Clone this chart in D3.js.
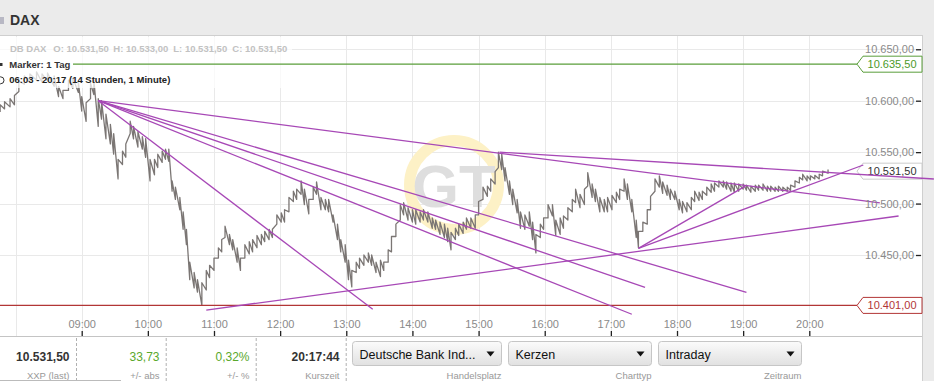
<!DOCTYPE html>
<html lang="de">
<head>
<meta charset="UTF-8">
<title>DAX Intraday</title>
<script src="https://cdn.jsdelivr.net/npm/d3@7"></script>
<style>
  body { margin: 0; background: #ebebeb; font-family: 'Liberation Sans', Arial, sans-serif; }
  svg { display: block; }
  .tick text { font-family: 'Liberation Sans', Arial, sans-serif; }
</style>
</head>
<body>
<svg id="chart" width="934" height="381"></svg>
<script>
// price bars (one range per sample)
const barTime = ["07:46","07:50","07:55","07:59","08:03","08:08","08:13","08:19","08:24","08:29","08:35","08:39","08:43","08:48","08:52","08:57","09:00","09:04","09:08","09:11","09:15","09:18","09:22","09:26","09:29","09:33","09:37","09:40","09:44","09:47","09:51","09:55","09:58","10:02","10:06","10:09","10:13","10:16","10:19","10:22","10:25","10:29","10:32","10:35","10:38","10:42","10:45","10:49","10:53","10:56","11:00","11:04","11:07","11:10","11:14","11:17","11:21","11:24","11:28","11:32","11:35","11:39","11:43","11:46","11:50","11:53","11:57","12:01","12:04","12:08","12:12","12:15","12:19","12:22","12:26","12:30","12:33","12:37","12:41","12:44","12:48","12:52","12:55","12:59","13:02","13:05","13:09","13:12","13:16","13:20","13:23","13:27","13:31","13:34","13:38","13:41","13:45","13:49","13:52","13:56","14:00","14:03","14:07","14:10","14:14","14:18","14:21","14:25","14:29","14:32","14:35","14:39","14:42","14:46","14:49","14:53","14:57","15:00","15:04","15:08","15:11","15:15","15:18","15:21","15:24","15:28","15:31","15:35","15:38","15:42","15:46","15:49","15:52","15:56","15:59","16:03","16:07","16:10","16:14","16:17","16:21","16:25","16:28","16:32","16:36","16:39","16:43","16:46","16:50","16:54","16:57","17:01","17:05","17:08","17:12","17:15","17:19","17:23","17:25","17:29","17:33","17:36","17:40","17:44","17:47","17:51","17:54","17:58","18:02","18:05","18:09","18:13","18:16","18:20","18:23","18:27","18:31","18:34","18:38","18:42","18:45","18:49","18:52","18:56","19:00","19:03","19:07","19:11","19:14","19:18","19:22","19:25","19:29","19:32","19:36","19:40","19:43","19:47","19:51","19:54","19:58","20:01","20:05","20:09","20:12","20:17"];
const barHigh = [10596,10599,10602,10605,10619,10624,10626,10628,10626,10627,10624,10614,10610,10620,10622,10618,10604,10598,10617,10620,10602,10600,10587,10577,10568,10543,10551,10558,10580,10575,10570,10565,10563,10543,10543,10548,10551,10553,10553,10522,10516,10506,10492,10475,10443,10433,10426,10423,10435,10440,10447,10457,10465,10478,10470,10465,10457,10447,10460,10463,10465,10469,10470,10473,10475,10475,10489,10491,10494,10506,10512,10514,10522,10514,10504,10516,10521,10506,10504,10504,10489,10480,10465,10460,10445,10435,10443,10447,10450,10452,10450,10443,10445,10443,10455,10468,10480,10499,10501,10496,10494,10494,10492,10494,10492,10486,10484,10482,10480,10476,10472,10476,10480,10482,10486,10486,10489,10502,10516,10517,10524,10531,10550,10548,10535,10522,10514,10504,10492,10489,10492,10482,10470,10480,10486,10499,10499,10484,10486,10488,10496,10504,10514,10509,10514,10530,10519,10514,10506,10504,10506,10508,10511,10514,10524,10519,10504,10484,10473,10482,10494,10507,10524,10527,10521,10518,10514,10512,10504,10502,10501,10506,10512,10511,10512,10516,10519,10520,10522,10522,10521,10520,10520,10519,10519,10518,10517,10518,10518,10519,10517,10517,10516,10517,10516,10516,10518,10522,10525.5,10528.5,10527,10527,10527.5,10528.5,10531.5,10533];
const barLow = [10589,10592,10594,10596,10609,10616,10618,10620,10618,10619,10614,10604,10602,10610,10612,10608,10590,10580,10602,10606,10575,10582,10563,10558,10548,10524,10538,10545,10568,10563,10555,10553,10545,10522,10528,10535,10540,10543,10541,10512,10504,10494,10475,10460,10426,10418,10414,10401,10416,10428,10435,10447,10453,10467,10460,10455,10443,10435,10447,10451,10453,10457,10460,10463,10465,10467,10480,10482,10482,10492,10502,10504,10509,10499,10490,10504,10509,10494,10494,10492,10482,10465,10453,10443,10426,10419,10433,10437,10440,10443,10440,10433,10429,10435,10443,10453,10468,10484,10489,10484,10482,10480,10482,10484,10482,10476,10475,10470,10467,10463,10455,10465,10469,10471,10475,10476,10476,10489,10504,10507,10512,10519,10535,10533,10522,10509,10499,10491,10476,10475,10478,10465,10452,10467,10475,10486,10488,10469,10470,10476,10484,10492,10501,10496,10499,10517,10506,10502,10492,10492,10492,10494,10501,10504,10512,10504,10492,10467,10457,10473,10480,10494,10512,10516,10510,10508,10504,10504,10494,10491,10492,10494,10502,10503,10504,10508,10511,10512,10516,10516,10514,10512,10511,10512,10514,10513,10511,10512,10513,10513,10512,10512,10512,10512,10512,10512,10513,10516,10520,10523,10522,10523,10524,10524,10527,10529.5];

// drawn trend lines (start / end)
const trendStartTime  = ["09:15","09:15","09:15","09:15","09:15","15:19","10:53","17:25","17:25"];
const trendStartPrice = [10600,10600,10600,10600,10600,10550,10396.5,10456.5,10456.5];
const trendEndTime    = ["21:04","19:03","17:31","17:19","13:24","21:53","21:21","20:49","19:02"];
const trendEndPrice   = [10500.6,10413.7,10418.6,10392.4,10397.2,10523.9,10487.9,10537.5,10517];

// axes
const priceTicks = [10450,10500,10550,10600,10650];
const hourGrid = ["08:00","09:00","10:00","11:00","12:00","13:00","14:00","15:00","16:00","17:00","18:00","19:00","20:00"];
const hourLabels = ["09:00","10:00","11:00","12:00","13:00","14:00","15:00","16:00","17:00","18:00","19:00","20:00"];

// markers
const markerHigh = 10635.5;
const markerLow = 10401;
const lastPrice = 10531.5;

// info and footer texts
const infoParts = ["DB DAX","O: 10.531,50","H: 10.533,00","L: 10.531,50","C: 10.531,50"];
const quoteValues = ["10.531,50","33,73","0,32%","20:17:44"];
const quoteLabels = ["XXP (last)","+/- abs","+/- %","Kurszeit"];
const quoteColors = ["#333","#5aa82c","#5aa82c","#333"];
const selectTexts = ["Deutsche Bank Ind...","Kerzen","Intraday"];
const selectLabels = ["Handelsplatz","Charttyp","Zeitraum"];

const de = d3.formatLocale({decimal: ",", thousands: ".", grouping: [3], currency: ["", " €"]});
const fmt = de.format(",.2f");
const parseT = d3.timeParse("%H:%M");

const W = 934, H = 381;
const plotRight = 922, plotTop = 36, plotBottom = 336;
const purple = "#a748b6";

const svg = d3.select("#chart");

const x = d3.scaleTime()
    .domain([parseT("09:00"), parseT("20:00")])
    .range([81.7, 809.3]);
const y = d3.scaleLinear()
    .domain([10450, 10600])
    .range([255, 100.7]);

// background panels
svg.append("rect").attr("x", 0).attr("y", 0).attr("width", W).attr("height", H).attr("fill", "#ebebeb");
svg.append("rect").attr("x", 0).attr("y", plotTop).attr("width", plotRight).attr("height", H - plotTop).attr("fill", "#fff");
svg.append("line").attr("x1", 0).attr("x2", plotRight).attr("y1", 35.5).attr("y2", 35.5).attr("stroke", "#cfcfcf");
svg.append("line").attr("x1", plotRight + 0.5).attr("x2", plotRight + 0.5).attr("y1", 35).attr("y2", H).attr("stroke", "#cfcfcf");

// header
svg.append("rect").attr("x", 0).attr("y", 17).attr("width", 4).attr("height", 7).attr("fill", "#b8b8c4");
svg.append("text").attr("x", 10).attr("y", 25).text("DAX")
    .attr("font-size", 14).attr("font-weight", "bold").attr("fill", "#333");

// grid
const grid = svg.append("g");
grid.selectAll(".vg").data(hourGrid).enter().append("line")
    .attr("x1", d => Math.round(x(parseT(d))) + 0.5).attr("x2", d => Math.round(x(parseT(d))) + 0.5)
    .attr("y1", plotTop).attr("y2", plotBottom)
    .attr("stroke", "#e9e9e9");
grid.selectAll(".hg").data(priceTicks).enter().append("line")
    .attr("x1", 0).attr("x2", plotRight)
    .attr("y1", d => Math.round(y(d)) + 0.5).attr("y2", d => Math.round(y(d)) + 0.5)
    .attr("stroke", "#e9e9e9");

// watermark
const wm = svg.append("g").attr("transform", "translate(454,185)");
wm.append("circle").attr("r", 44.5).attr("fill", "none").attr("stroke", "#fdf1c6").attr("stroke-width", 11);
wm.append("text").attr("text-anchor", "middle").attr("y", 22).text("GT")
    .attr("font-size", 60).attr("font-weight", "bold").attr("fill", "#dedede");

// price series: each sample drawn low -> high, then on to the next low
const pts = [];
const n = Math.min(barTime.length, barHigh.length, barLow.length);
for (let i = 0; i < n; i++) {
    const xx = x(parseT(barTime[i]));
    pts.push([xx, y(barLow[i])], [xx, y(barHigh[i])]);
}
svg.append("path")
    .attr("d", d3.line()(pts))
    .attr("fill", "none")
    .attr("stroke", "#7b7674")
    .attr("stroke-width", 1.3)
    .attr("stroke-linejoin", "round");

// info overlay top-left
svg.append("rect").attr("x", 0).attr("y", 37).attr("width", 292).attr("height", 51)
    .attr("fill", "#fff").attr("opacity", 0.72);
const infoX = [10, 53.3, 113.3, 173.3, 232.3];
svg.append("g").selectAll("text").data(infoParts).enter().append("text")
    .attr("x", (d, i) => infoX[i]).attr("y", 52.3).text(d => d)
    .attr("font-size", 9.5).attr("font-weight", "bold").attr("fill", "#c2c2c2");
svg.append("rect").attr("x", 0).attr("y", 63).attr("width", 2.5).attr("height", 3).attr("fill", "#333");
svg.append("text").attr("x", 9.3).attr("y", 67.7).text("Marker: 1 Tag")
    .attr("font-size", 9.5).attr("font-weight", "bold").attr("fill", "#333");
svg.append("circle").attr("cx", 0.5).attr("cy", 80.3).attr("r", 3.5).attr("fill", "none").attr("stroke", "#333");
svg.append("text").attr("x", 9.3).attr("y", 83.3).text("06:03 - 20:17 (14 Stunden, 1 Minute)")
    .attr("font-size", 9.5).attr("font-weight", "bold").attr("fill", "#222");

// marker lines
const labelTip = 857;
svg.append("line").attr("x1", 73).attr("x2", labelTip)
    .attr("y1", y(markerHigh)).attr("y2", y(markerHigh))
    .attr("stroke", "#5a9e3a").attr("stroke-width", 1.2);
svg.append("line").attr("x1", 0).attr("x2", labelTip)
    .attr("y1", y(markerLow)).attr("y2", y(markerLow))
    .attr("stroke", "#b23636").attr("stroke-width", 1.4);

// price flags on the right
function flag(value, stroke, textColor) {
    const yc = y(value);
    const g = svg.append("g");
    g.append("path")
        .attr("d", `M${labelTip},${yc} L${labelTip + 6},${yc - 8} L${plotRight},${yc - 8} L${plotRight},${yc + 8} L${labelTip + 6},${yc + 8} Z`)
        .attr("fill", "#fff").attr("stroke", stroke).attr("stroke-width", 1);
    g.append("text").attr("x", 916.5).attr("y", yc + 4).attr("text-anchor", "end")
        .text(fmt(value)).attr("font-size", 11).attr("fill", textColor);
}
flag(markerHigh, "#5a9e3a", "#4c9a2a");
flag(lastPrice, "#cccccc", "#333");
flag(markerLow, "#b23636", "#b23636");

// trend lines
const trends = trendStartTime.map((t, i) => ({
    x1: x(parseT(t)), y1: y(trendStartPrice[i]),
    x2: x(parseT(trendEndTime[i])), y2: y(trendEndPrice[i])
}));
svg.append("g").selectAll("line").data(trends).enter().append("line")
    .attr("x1", d => d.x1).attr("y1", d => d.y1)
    .attr("x2", d => d.x2).attr("y2", d => d.y2)
    .attr("stroke", purple).attr("stroke-width", 1.3);

// y axis
const yAxis = svg.append("g").attr("transform", `translate(${plotRight - 1},0)`)
    .call(d3.axisLeft(y).tickValues(priceTicks).tickFormat(fmt).tickSize(5).tickPadding(2));
yAxis.select(".domain").remove();
yAxis.selectAll("line").attr("stroke", "#222").attr("stroke-width", 1.3);
yAxis.selectAll("text").attr("font-size", 11).attr("fill", "#8a8a8a");

// x axis
svg.append("line").attr("x1", 0).attr("x2", plotRight).attr("y1", plotBottom + 0.5).attr("y2", plotBottom + 0.5)
    .attr("stroke", "#c4c4c4");
const xAxis = svg.append("g").attr("transform", `translate(0,${plotBottom})`)
    .call(d3.axisTop(x).tickValues(hourLabels.map(parseT)).tickFormat(d3.timeFormat("%H:%M")).tickSize(5).tickPadding(3));
xAxis.select(".domain").remove();
xAxis.selectAll("line").attr("stroke", "#222").attr("stroke-width", 1.3);
xAxis.selectAll("text").attr("font-size", 11).attr("fill", "#8a8a8a");

// footer quote fields
const sepX = [76, 165.7, 255.7, 345.7];
svg.append("g").selectAll("line").data(sepX).enter().append("line")
    .attr("x1", d => d + 0.5).attr("x2", d => d + 0.5).attr("y1", 338).attr("y2", H)
    .attr("stroke", "#b0b0b0").attr("stroke-dasharray", "3,2");
const quoteRight = [69.5, 159.5, 249.5, 339.5];
svg.append("g").selectAll("text").data(quoteValues).enter().append("text")
    .attr("x", (d, i) => quoteRight[i]).attr("y", 361).attr("text-anchor", "end")
    .text(d => d).attr("font-size", 12)
    .attr("font-weight", (d, i) => (i === 0 || i === 3) ? "bold" : "normal")
    .attr("fill", (d, i) => quoteColors[i]);
svg.append("g").selectAll("text").data(quoteLabels).enter().append("text")
    .attr("x", (d, i) => quoteRight[i]).attr("y", 378.5).attr("text-anchor", "end")
    .text(d => d).attr("font-size", 9.5).attr("fill", "#999");
svg.append("line").attr("x1", 0).attr("x2", 121).attr("y1", 380.5).attr("y2", 380.5).attr("stroke", "#bbb");

// footer selects
const defs = svg.append("defs");
const grad = defs.append("linearGradient").attr("id", "btn").attr("x1", 0).attr("x2", 0).attr("y1", 0).attr("y2", 1);
grad.append("stop").attr("offset", "0%").attr("stop-color", "#fbfbfb");
grad.append("stop").attr("offset", "100%").attr("stop-color", "#e1e1e1");
const selX = [352.5, 508.5, 658.5];
const selWidth = [149, 143, 143];
const sel = svg.append("g").selectAll("g").data(selectTexts).enter().append("g")
    .attr("transform", (d, i) => `translate(${selX[i]},341.5)`);
sel.append("rect").attr("width", (d, i) => selWidth[i]).attr("height", 24).attr("rx", 3)
    .attr("fill", "url(#btn)").attr("stroke", "#c6c6c6");
sel.append("text").attr("x", 7).attr("y", 17).text(d => d).attr("font-size", 12.5).attr("fill", "#111");
sel.append("path")
    .attr("d", (d, i) => {
        const r = selWidth[i] - 11;
        return `M${r - 4},10 L${r + 4},10 L${r},15 Z`;
    })
    .attr("fill", "#111");
svg.append("g").selectAll("text").data(selectLabels).enter().append("text")
    .attr("x", (d, i) => selX[i] + selWidth[i]).attr("y", 378.5)
    .attr("text-anchor", "end").text(d => d).attr("font-size", 9.5).attr("fill", "#999");
</script>
</body>
</html>
